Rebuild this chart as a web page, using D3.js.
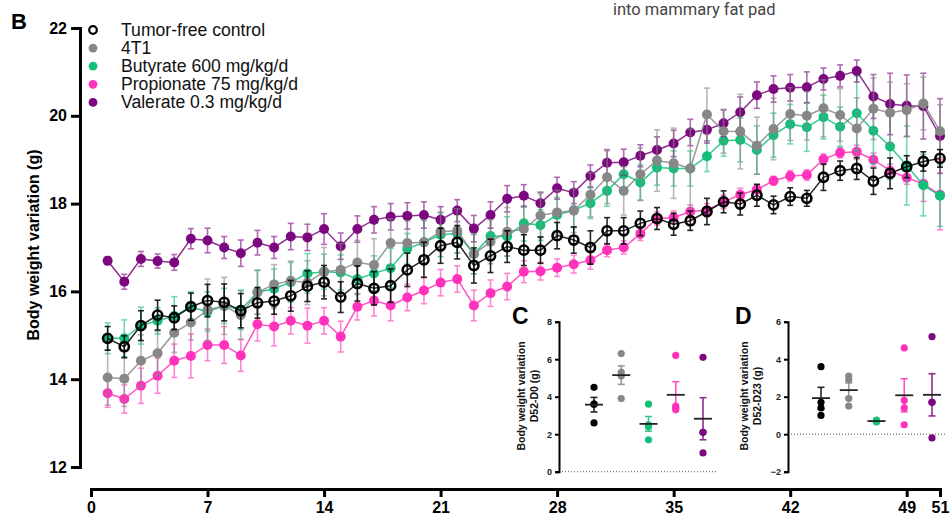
<!DOCTYPE html>
<html>
<head>
<meta charset="utf-8">
<script src="https://cdn.jsdelivr.net/npm/d3@7"></script>
<style>
  body { margin: 0; background: #fff; }
  svg { display: block; font-family: "Liberation Sans", Arial, sans-serif; }
</style>
</head>
<body>
<svg id="fig" width="952" height="520"></svg>
<script>
// ---- Body weight time course (days after start), mean and SEM per group ----
const days = [1,2,3,4,5,6,7,8,9,10,11,12,13,14,15,16,17,18,19,20,21,22,23,24,25,26,
              27,28,29,30,31,32,33,34,35,36,37,38,39,40,41,42,43,44,45,46,47,48,49,50,51];
const xTicks = [0, 7, 14, 21, 28, 35, 42, 49, 51];
const yTicks = [12, 14, 16, 18, 20, 22];

const groupNames = ["Tumor-free control", "4T1", "Butyrate 600 mg/kg/d",
                    "Propionate 75 mg/kg/d", "Valerate 0.3 mg/kg/d"];
const groupColors = ["#000000", "#878787", "#12c07a", "#ff33bb", "#7b087e"];

const controlMean = [14.93,14.74,15.22,15.46,15.40,15.65,15.79,15.75,15.56,15.74,15.78,15.90,16.12,16.21,15.87,16.18,16.07,
  16.13,16.49,16.72,17.04,17.12,16.59,16.81,17.02,16.94,16.94,17.27,17.17,17.00,17.38,17.38,17.55,17.66,17.53,17.61,
  17.82,18.04,17.99,18.19,17.97,18.16,18.12,18.60,18.75,18.80,18.51,18.69,18.84,18.96,19.03];
const controlSem = [0.27,0.25,0.34,0.34,0.27,0.31,0.37,0.42,0.39,0.35,0.30,0.35,0.35,0.38,0.35,0.40,0.38,0.38,0.38,0.40,
  0.40,0.38,0.40,0.38,0.36,0.35,0.30,0.30,0.30,0.38,0.30,0.30,0.28,0.25,0.25,0.22,0.30,0.25,0.25,0.25,0.20,0.20,0.18,
  0.30,0.22,0.25,0.30,0.35,0.25,0.22,0.20];

const tumorMean = [14.04,14.01,14.42,14.59,15.06,15.29,15.58,15.67,15.46,15.98,16.16,16.24,16.20,16.45,16.49,16.66,16.60,
  17.10,17.10,17.12,17.36,17.38,16.85,17.13,17.36,17.42,17.73,17.80,17.84,18.20,18.60,18.29,18.67,18.98,18.92,18.80,
  20.03,19.65,19.64,19.32,19.70,20.04,20.00,20.17,20.02,19.71,20.16,20.07,20.13,20.28,19.65];
const tumorSem = [0.63,0.63,0.59,0.50,0.45,0.40,0.70,0.65,0.55,0.50,0.45,0.45,0.50,0.55,0.60,0.50,0.60,0.55,0.50,0.50,
  0.45,0.50,0.45,0.50,0.55,0.50,0.50,0.50,0.50,0.50,0.60,0.55,0.60,0.70,0.80,0.90,0.60,0.50,0.85,0.65,0.70,0.60,0.55,
  0.65,0.60,0.70,0.70,0.70,0.60,0.60,0.60];

const butyrateMean = [14.93,14.93,15.22,15.33,15.44,15.64,15.54,15.67,15.58,15.98,16.06,16.21,16.41,16.45,16.43,16.28,16.41,
  16.53,16.97,17.12,17.29,17.32,16.85,17.26,17.25,17.55,17.51,17.74,17.85,18.01,18.29,18.67,18.48,18.82,18.80,18.80,
  19.08,19.43,19.45,19.22,19.56,19.81,19.74,19.97,19.75,20.06,19.66,19.30,18.87,18.42,18.18];
const butyrateSem = [0.35,0.42,0.42,0.30,0.44,0.35,0.45,0.40,0.45,0.50,0.45,0.45,0.45,0.40,0.40,0.35,0.40,0.45,0.35,0.50,
  0.50,0.45,0.45,0.45,0.45,0.40,0.35,0.40,0.40,0.35,0.35,0.35,0.40,0.40,0.40,0.40,0.35,0.35,0.50,0.55,0.50,0.45,0.55,
  0.50,0.45,0.85,0.75,0.75,0.90,0.70,0.70];

const propionateMean = [13.68,13.55,13.85,14.08,14.42,14.53,14.78,14.78,14.54,15.25,15.20,15.33,15.22,15.33,14.97,15.65,15.79,
  15.68,15.86,16.02,16.20,16.28,15.68,15.96,16.11,16.45,16.46,16.54,16.62,16.71,16.94,17.00,17.31,17.66,17.68,17.82,
  17.85,18.04,18.20,18.32,18.52,18.63,18.65,19.01,19.16,19.18,19.00,18.75,18.59,18.45,18.20];
const propionateSem = [0.32,0.32,0.40,0.40,0.38,0.50,0.36,0.42,0.36,0.38,0.44,0.30,0.40,0.30,0.35,0.30,0.35,0.35,0.30,0.30,
  0.30,0.30,0.35,0.30,0.30,0.25,0.20,0.20,0.20,0.20,0.15,0.15,0.15,0.15,0.15,0.15,0.15,0.15,0.15,0.10,0.10,0.12,0.12,
  0.12,0.12,0.15,0.15,0.15,0.15,0.40,0.80];

const valerateMean = [16.70,16.22,16.74,16.69,16.66,17.20,17.16,17.00,16.87,17.11,17.00,17.25,17.23,17.42,17.03,17.42,17.63,
  17.70,17.72,17.74,17.63,17.84,17.43,17.74,18.11,18.18,18.01,18.35,18.25,18.63,18.93,18.94,19.09,19.22,19.37,19.62,
  19.68,19.83,20.08,20.47,20.61,20.64,20.65,20.84,20.91,21.02,20.44,20.27,20.23,20.22,19.54];
const valerateSem = [0.09,0.17,0.17,0.16,0.18,0.23,0.28,0.25,0.30,0.28,0.25,0.30,0.30,0.35,0.30,0.30,0.30,0.30,0.30,0.30,
  0.30,0.25,0.30,0.30,0.30,0.25,0.25,0.25,0.25,0.25,0.30,0.30,0.25,0.30,0.30,0.30,0.30,0.30,0.35,0.30,0.30,0.30,0.35,
  0.25,0.25,0.25,0.50,0.70,0.70,0.75,0.85];

// ---- Per-animal weight change, insets C (D52-D0) and D (D52-D23) ----
const changeD0 = [
  [4.5, 3.6, 3.6, 2.6],
  [6.3, 5.3, 5.1, 3.9],
  [3.6, 2.5, 2.4, 1.7],
  [6.2, 3.5, 3.4, 3.3],
  [6.1, 2.1, 2.1, 1.0]
];
const changeD23 = [
  [3.6, 1.7, 1.4, 1.0],
  [3.1, 2.9, 1.9, 1.5],
  [0.75, 0.7, 0.65],
  [4.6, 1.8, 1.4, 0.5],
  [5.2, 1.7, 1.7, -0.2]
];
const insetCTicks = [0, 2, 4, 6, 8];
const insetDTicks = [-2, 0, 2, 4, 6];

// ---------------------------------------------------------------------------
const svg = d3.select("#fig");

const x = d3.scaleLinear().domain([0, 51]).range([91, 940]);
const y = d3.scaleLinear().domain([12, 22]).range([467, 28]);

// y axis
const yAxisG = svg.append("g").attr("transform", "translate(80,0)")
  .call(d3.axisLeft(y).tickValues(yTicks).tickSize(9).tickPadding(4).tickFormat(d3.format("d")));
yAxisG.select(".domain").attr("stroke", "#000").attr("stroke-width", 3);
yAxisG.selectAll(".tick line").attr("stroke", "#000").attr("stroke-width", 3);
yAxisG.selectAll(".tick text").attr("font-size", 16).attr("font-weight", "bold")
  .attr("fill", "#000").attr("font-family", "Liberation Sans, Arial, sans-serif");

// x axis
const xAxisG = svg.append("g").attr("transform", "translate(0,489)")
  .call(d3.axisBottom(x).tickValues(xTicks).tickSize(8).tickSizeOuter(8).tickPadding(5).tickFormat(d3.format("d")));
xAxisG.select(".domain").attr("stroke", "#000").attr("stroke-width", 3);
xAxisG.selectAll(".tick line").attr("stroke", "#000").attr("stroke-width", 3);
xAxisG.selectAll(".tick text").attr("font-size", 16).attr("font-weight", "bold")
  .attr("fill", "#000").attr("font-family", "Liberation Sans, Arial, sans-serif");

// y title
svg.append("text")
  .attr("transform", "translate(39,245) rotate(-90)")
  .attr("text-anchor", "middle")
  .attr("font-size", 16).attr("font-weight", "bold")
  .text("Body weight variation (g)");

// panel letter and caption fragment
svg.append("text").attr("x", 11).attr("y", 29).attr("font-size", 22).attr("font-weight", "bold").text("B");
svg.append("text").attr("x", 613).attr("y", 15).attr("font-size", 16.5).attr("fill", "#444")
  .attr("font-family", "Roboto, Arial, sans-serif").text("into mammary fat pad");

// ---- series ----
const series = [
  { name: groupNames[3], color: groupColors[3], mean: propionateMean, sem: propionateSem, open: false },
  { name: groupNames[2], color: groupColors[2], mean: butyrateMean, sem: butyrateSem, open: false },
  { name: groupNames[4], color: groupColors[4], mean: valerateMean, sem: valerateSem, open: false },
  { name: groupNames[1], color: groupColors[1], mean: tumorMean, sem: tumorSem, open: false },
  { name: groupNames[0], color: groupColors[0], mean: controlMean, sem: controlSem, open: true }
];

const line = d3.line().x(d => x(d.day)).y(d => y(d.v));

series.forEach(s => {
  const pts = days.map((d, i) => ({ day: d, v: s.mean[i], e: s.sem[i] }));
  const g = svg.append("g");
  const errOpacity = s.open ? 0.85 : 0.6;
  // error bars
  const eb = g.append("g").attr("stroke", s.color).attr("stroke-width", 1.6).attr("opacity", errOpacity);
  pts.forEach(p => {
    eb.append("line").attr("x1", x(p.day)).attr("x2", x(p.day)).attr("y1", y(p.v - p.e)).attr("y2", y(p.v + p.e));
    eb.append("line").attr("x1", x(p.day) - 3).attr("x2", x(p.day) + 3).attr("y1", y(p.v - p.e)).attr("y2", y(p.v - p.e));
    eb.append("line").attr("x1", x(p.day) - 3).attr("x2", x(p.day) + 3).attr("y1", y(p.v + p.e)).attr("y2", y(p.v + p.e));
  });
  // connecting line
  g.append("path").datum(pts).attr("d", line).attr("fill", "none")
    .attr("stroke", s.color).attr("stroke-width", 1.5).attr("opacity", 0.85);
  // markers
  g.selectAll("circle").data(pts).join("circle")
    .attr("cx", p => x(p.day)).attr("cy", p => y(p.v))
    .attr("r", s.open ? 4.6 : 5)
    .attr("fill", s.open ? "none" : s.color)
    .attr("stroke", s.open ? "#000" : "none")
    .attr("stroke-width", s.open ? 2.6 : 0);
});

// ---- legend ----
const legend = svg.append("g");
groupNames.forEach((name, i) => {
  const yy = 30 + i * 18.1;
  legend.append("circle").attr("cx", 93).attr("cy", yy)
    .attr("r", i === 0 ? 3.8 : 4.4)
    .attr("fill", i === 0 ? "#fff" : groupColors[i])
    .attr("stroke", i === 0 ? "#000" : "none")
    .attr("stroke-width", i === 0 ? 2.2 : 0);
  legend.append("text").attr("x", 121).attr("y", yy + 6).attr("font-size", 17.6).attr("fill", "#111").text(name);
});

// ---- inset scatter panels ----
function inset(opts) {
  const g = svg.append("g");
  const iy = d3.scaleLinear().domain(opts.domain).range([471.7, 321.7]);
  const ix = d3.scalePoint().domain(groupNames).range(opts.xRange);

  // zero reference line
  g.append("line").attr("x1", opts.axisX).attr("x2", opts.zeroEnd)
    .attr("y1", iy(0)).attr("y2", iy(0))
    .attr("stroke", "#555").attr("stroke-width", 1).attr("stroke-dasharray", "1,2");

  const ax = g.append("g").attr("transform", `translate(${opts.axisX},0)`)
    .call(d3.axisLeft(iy).tickValues(opts.ticks).tickSize(4).tickPadding(3).tickFormat(d3.format("d")));
  ax.select(".domain").attr("stroke", "#000").attr("stroke-width", 2);
  ax.selectAll(".tick line").attr("stroke", "#000").attr("stroke-width", 2);
  ax.selectAll(".tick text").attr("font-size", 9).attr("font-weight", "bold").attr("fill", "#222")
    .attr("font-family", "Liberation Sans, Arial, sans-serif");

  // axis title (two lines)
  g.append("text").attr("transform", `translate(${opts.titleX},396) rotate(-90)`)
    .attr("text-anchor", "middle").attr("font-size", 10.5).attr("font-weight", "bold").attr("fill", "#111")
    .text("Body weight variation");
  g.append("text").attr("transform", `translate(${opts.titleX + 13},396) rotate(-90)`)
    .attr("text-anchor", "middle").attr("font-size", 10.5).attr("font-weight", "bold").attr("fill", "#111")
    .text(opts.sub);

  g.append("text").attr("x", opts.letterX).attr("y", 324).attr("font-size", 23).attr("font-weight", "bold")
    .text(opts.letter);

  opts.data.forEach((vals, gi) => {
    const cx = ix(groupNames[gi]);
    const color = groupColors[gi];
    const m = d3.mean(vals);
    const se = d3.deviation(vals) / Math.sqrt(vals.length);
    g.selectAll(null).data(vals).join("circle")
      .attr("cx", cx).attr("cy", v => iy(v)).attr("r", 3.6).attr("fill", color);
    const eb = g.append("g").attr("stroke", color).attr("stroke-width", 1.6).attr("opacity", 0.85);
    eb.append("line").attr("x1", cx).attr("x2", cx).attr("y1", iy(m - se)).attr("y2", iy(m + se));
    eb.append("line").attr("x1", cx - 3.5).attr("x2", cx + 3.5).attr("y1", iy(m - se)).attr("y2", iy(m - se));
    eb.append("line").attr("x1", cx - 3.5).attr("x2", cx + 3.5).attr("y1", iy(m + se)).attr("y2", iy(m + se));
    g.append("line").attr("x1", cx - 9).attr("x2", cx + 9).attr("y1", iy(m)).attr("y2", iy(m))
      .attr("stroke", "#222").attr("stroke-width", 1.8);
  });
}

inset({ letter: "C", letterX: 512, titleX: 525, sub: "D52-D0 (g)", axisX: 559, zeroEnd: 718,
        domain: [0, 8], ticks: insetCTicks, xRange: [594, 703], data: changeD0 });
inset({ letter: "D", letterX: 735, titleX: 748, sub: "D52-D23 (g)", axisX: 788, zeroEnd: 947,
        domain: [-2, 6], ticks: insetDTicks, xRange: [821, 932], data: changeD23 });
</script>
</body>
</html>
